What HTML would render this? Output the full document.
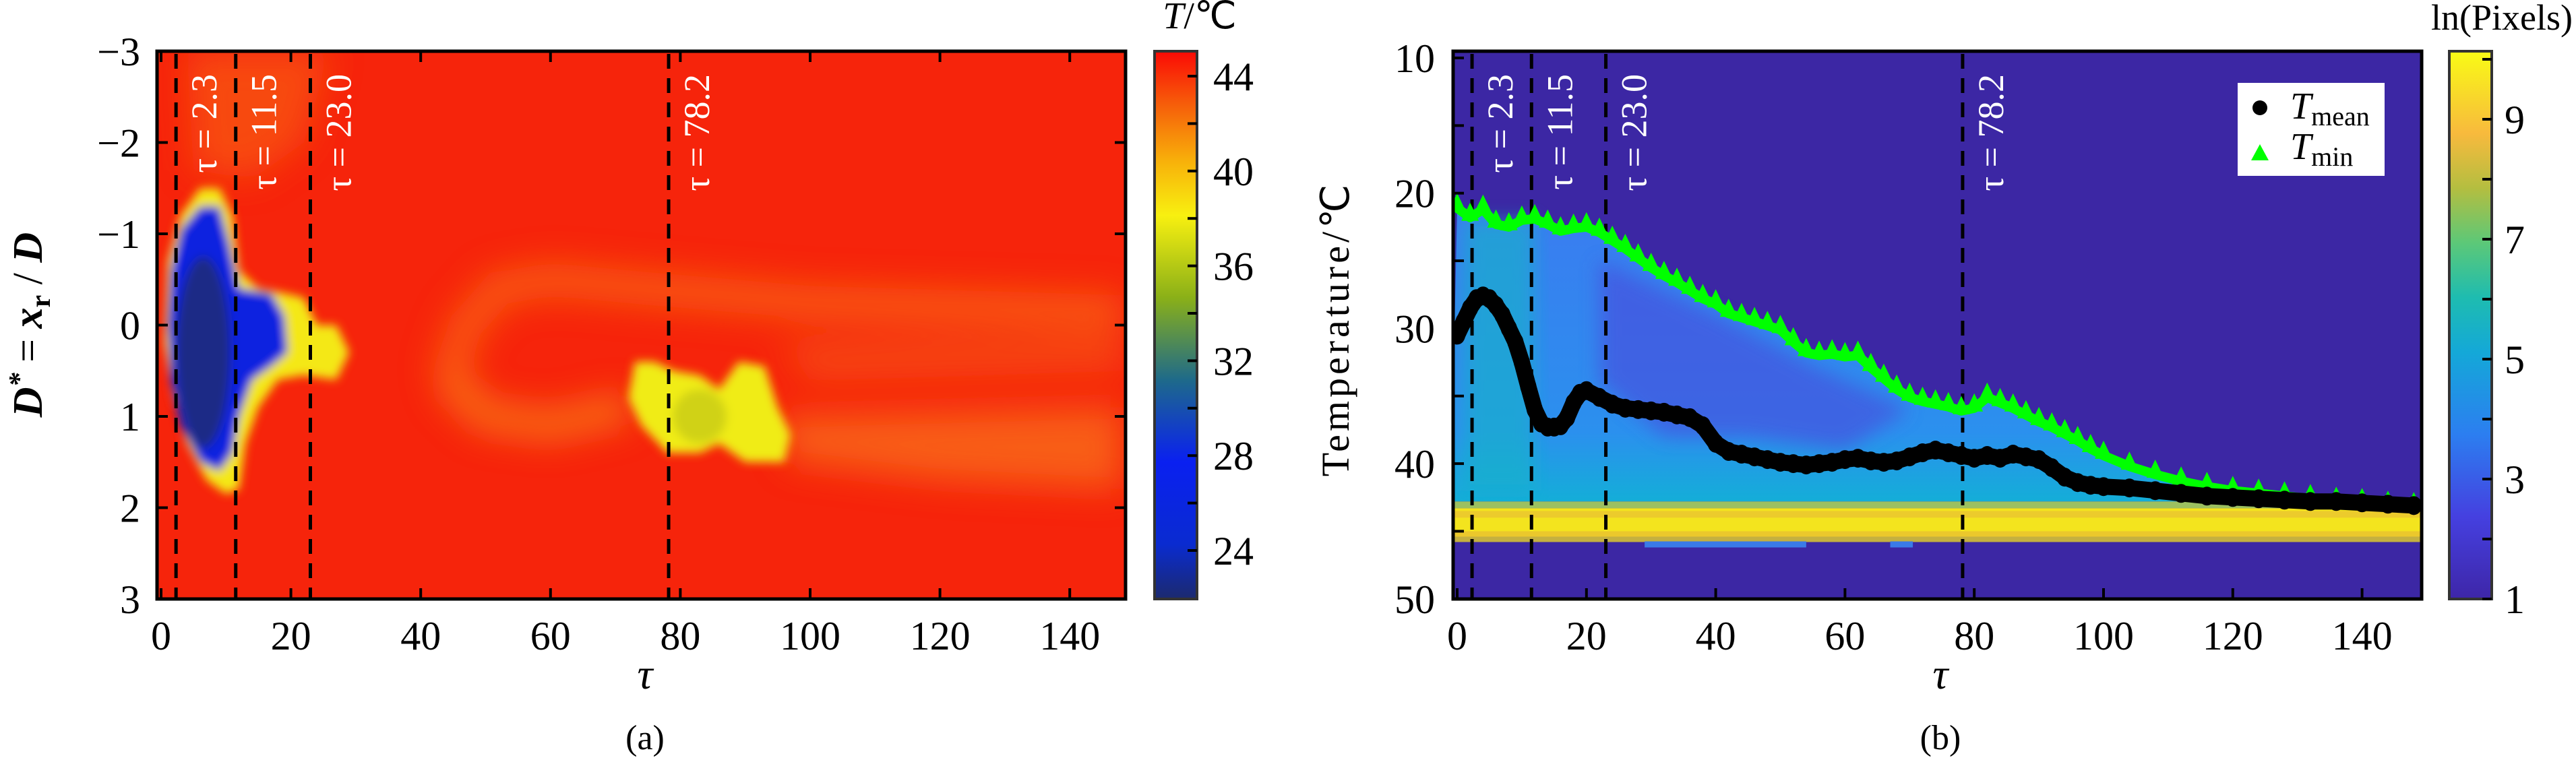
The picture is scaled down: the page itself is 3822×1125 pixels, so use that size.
<!DOCTYPE html>
<html><head><meta charset="utf-8"><style>
html,body{margin:0;padding:0;background:#fff;}
svg{display:block;font-family:"Liberation Serif",serif;}
</style></head><body>
<svg id="fig" width="3822" height="1125" viewBox="0 0 3822 1125" xmlns="http://www.w3.org/2000/svg">
<defs>
<filter id="blur8" x="-20%" y="-20%" width="140%" height="140%"><feGaussianBlur stdDeviation="7"/></filter>
<filter id="blur14" x="-20%" y="-20%" width="140%" height="140%"><feGaussianBlur stdDeviation="14"/></filter>
<filter id="blur25" x="-30%" y="-30%" width="160%" height="160%"><feGaussianBlur stdDeviation="25"/></filter>
<linearGradient id="cbA" x1="0" y1="1" x2="0" y2="0">
<stop offset="0" stop-color="#1c2a6e"/><stop offset="0.1" stop-color="#0a2bd0"/><stop offset="0.25" stop-color="#0a20f0"/>
<stop offset="0.4" stop-color="#1e6a8a"/><stop offset="0.55" stop-color="#8ab018"/><stop offset="0.7" stop-color="#f8f010"/>
<stop offset="0.8" stop-color="#f8b00a"/><stop offset="0.9" stop-color="#f6600a"/><stop offset="1" stop-color="#fb0a05"/>
</linearGradient>
<linearGradient id="cbB" x1="0" y1="1" x2="0" y2="0">
<stop offset="0" stop-color="#3e26a8"/><stop offset="0.15" stop-color="#4540e0"/><stop offset="0.3" stop-color="#2c7ef0"/>
<stop offset="0.45" stop-color="#14a8d8"/><stop offset="0.55" stop-color="#1ebcb0"/><stop offset="0.65" stop-color="#5cc878"/>
<stop offset="0.75" stop-color="#b4be40"/><stop offset="0.85" stop-color="#f8ba3d"/><stop offset="1" stop-color="#f9fb15"/>
</linearGradient>
<linearGradient id="fillB" x1="0" y1="1" x2="0" y2="0">
<stop offset="0" stop-color="#12b0d6"/><stop offset="0.25" stop-color="#2b90ee"/><stop offset="1" stop-color="#3a7cf0"/>
</linearGradient>
<clipPath id="clipA"><rect x="233" y="76" width="1437" height="813"/></clipPath>
<clipPath id="clipB"><rect x="2156" y="76" width="1437" height="813"/></clipPath>
</defs>
<g id="layerA"></g>
<g id="layerB"></g>
</svg>
<script>
// ---------- data ----------
const markerTaus = [2.3, 11.5, 23.0, 78.2];
const markerLabels = ["τ = 2.3", "τ = 11.5", "τ = 23.0", "τ = 78.2"];
const xTicks = [0, 20, 40, 60, 80, 100, 120, 140];
const yTicksA = [-3, -2, -1, 0, 1, 2, 3];
const cbTicksA = [24, 28, 32, 36, 40, 44];
const yTicksB = [10, 20, 30, 40, 50];
const cbTicksB = [1, 3, 5, 7, 9];
const meanTau = [0,1,2,3,4,5,6,7,8,9,10,11,12,13,14,15,16,17,18,19,20,22,24,26,28,30,32,34,36,38,40,42,44,46,48,50,52,54,56,58,60,62,64,66,68,70,72,74,76,78,80,82,84,86,88,90,92,94,96,98,100,104,108,112,116,120,124,128,132,136,140,144,148];
const meanT = [30.5,29.5,28.5,27.8,27.6,27.8,28.3,29,30,31,32.5,34.3,36,37,37.3,37.3,37.2,36.6,35.5,34.8,34.6,35.1,35.6,35.9,36,36.1,36.2,36.4,36.6,37.2,38.5,39.1,39.3,39.5,39.7,39.9,40,40.1,40,39.9,39.7,39.6,39.8,39.9,39.8,39.5,39.2,39,39.2,39.4,39.6,39.4,39.6,39.3,39.5,39.7,40.3,41,41.4,41.6,41.7,41.8,42,42.2,42.4,42.5,42.6,42.7,42.8,42.8,42.9,43,43.1];
const minTau = [0,2,4,6,8,10,12,14,16,18,20,22,24,26,28,30,32,34,36,38,40,42,44,46,48,50,52,54,56,58,60,62,64,66,68,70,72,74,76,78,80,82,84,86,88,90,92,94,96,98,100,104,108,112,116,120,124,128,132,136,140,144,148];
const minT = [20.8,21.5,20.9,22,22.2,21.7,21.6,22,22.5,22.3,22.2,22.6,23.2,23.8,24.5,25.2,25.8,26.3,26.9,27.5,27.9,28.6,28.9,29.2,29.5,29.8,30.7,31.5,31.7,31.6,31.8,31.7,32.6,33.4,34.2,34.8,35.1,35.3,35.5,35.8,35.6,34.8,35.2,35.6,36.1,36.6,37,37.5,38,38.6,39.1,39.9,40.5,41,41.4,41.7,41.9,42.1,42.3,42.5,42.6,42.8,42.9];
// ---------- scales ----------
const SVGNS = "http://www.w3.org/2000/svg";
const xA = t => 239 + 9.63 * t;
const yA = d => 76 + 135.5 * (d + 3);
const cbA = v => 113 + (44 - v) * 35.2;
const xB = t => 2162 + 9.59 * t;
const yB = T => 86 + 20.07 * (T - 10);
const cbB = v => 889 - (v - 1) * 89;
function mk(tag, attrs, parent) {
  const e = document.createElementNS(SVGNS, tag);
  for (const k in attrs) e.setAttribute(k, attrs[k]);
  parent.appendChild(e);
  return e;
}
function txt(s, attrs, parent) { const e = mk("text", attrs, parent); e.textContent = s; return e; }
const LA = document.getElementById("layerA");
const LB = document.getElementById("layerB");
// ---------- panel A heatmap ----------
const hmA = mk("g", {"clip-path": "url(#clipA)"}, LA);


mk("rect", {x: 233, y: 76, width: 1437, height: 813, fill: "#f6240b"}, hmA);
const pts = arr => arr.map(p => xA(p[0]) + "," + yA(p[1])).join(" ");
const soft = mk("g", {filter: "url(#blur25)"}, hmA);
mk("polygon", {points: pts([[4,-3],[26,-3],[22,-2],[14,-1.6],[5,-1.7]]), fill: "#f85a12", opacity: 0.7}, soft);
mk("polyline", {points: pts([[44,0.6],[47,0],[52,-0.4],[60,-0.5],[75,-0.4],[100,-0.25],[148,-0.15]]), fill: "none", stroke: "#fa7a16", "stroke-width": 50, opacity: 0.6}, soft);
mk("polyline", {points: pts([[44,0.6],[50,1.0],[60,1.1],[72,0.9]]), fill: "none", stroke: "#fa8a18", "stroke-width": 45, opacity: 0.7}, soft);
mk("polygon", {points: pts([[95,1.0],[148,0.9],[148,1.8],[120,1.7],[97,1.5]]), fill: "#f8701a", opacity: 0.75}, soft);
mk("polygon", {points: pts([[95,0.2],[148,0.1],[148,0.5],[100,0.6]]), fill: "#f86a14", opacity: 0.5}, soft);
const mid = mk("g", {filter: "url(#blur8)"}, hmA);
mk("polygon", {points: pts([[1,-0.7],[3,-1.2],[6,-1.5],[9,-1.5],[11,-1.2],[12,-0.6],[15,-0.4],[19,-0.35],[22,-0.3],[24,0],[27,0],[29,0.3],[27,0.6],[22,0.55],[18,0.6],[15,0.9],[13,1.3],[12,1.8],[10,1.85],[7,1.7],[4,1.3],[2,0.8],[0.5,0.2]]), fill: "#f4e812"}, mid);
mk("polygon", {points: pts([[1.5,-0.6],[3,-1.05],[6,-1.3],[9,-1.3],[10.5,-0.9],[12,-0.4],[17,-0.35],[19,-0.1],[19.5,0.3],[17,0.45],[14,0.6],[12,1.0],[11,1.4],[9,1.6],[6,1.5],[3,1.1],[1.5,0.6],[1,0]]), fill: "#0a24e0"}, mid);
mk("ellipse", {cx: xA(6.5), cy: yA(0.3), rx: 9.63 * 4.2, ry: 135.5 * 1.05, fill: "#1a2c86"}, mid);
mk("polygon", {points: pts([[73,0.4],[76,0.4],[79,0.5],[83,0.55],[86,0.7],[89,0.4],[93,0.45],[95,0.9],[97,1.2],[96,1.5],[90,1.5],[86,1.3],[83,1.4],[78,1.4],[74,1.1],[72,0.8]]), fill: "#f0ec14"}, mid);
mk("ellipse", {cx: xA(83), cy: yA(1.0), rx: 40, ry: 40, fill: "#c8cc14", opacity: 0.8}, mid);
// ---------- panel A axes ----------
const axA = mk("g", {}, LA);


markerTaus.forEach((t, i) => {
  const l = mk("line", {x1: xA(t), x2: xA(t), y1: 80, y2: 889, stroke: "#000", "stroke-width": 5, "stroke-dasharray": "22 14"}, axA);
  
  
  const tx = txt(markerLabels[i], {x: 0, y: 0, transform: `translate(${xA(t) + 60},110) rotate(-90)`, "text-anchor": "end", fill: "#fff", "font-size": 54}, axA);
  
  
});
mk("rect", {x: 233, y: 76, width: 1437, height: 813, fill: "none", stroke: "#000", "stroke-width": 5}, axA);
xTicks.forEach(t => {
  mk("line", {x1: xA(t), x2: xA(t), y1: 889, y2: 873, stroke: "#000", "stroke-width": 4}, axA);
  mk("line", {x1: xA(t), x2: xA(t), y1: 76, y2: 92, stroke: "#000", "stroke-width": 4}, axA);
  const e = txt(String(t), {x: xA(t), y: 964, "text-anchor": "middle", "font-size": 60}, axA);
  
  
});
yTicksA.forEach(d => {
  mk("line", {x1: 233, x2: 249, y1: yA(d), y2: yA(d), stroke: "#000", "stroke-width": 4}, axA);
  mk("line", {x1: 1670, x2: 1654, y1: yA(d), y2: yA(d), stroke: "#000", "stroke-width": 4}, axA);
  const e = txt(d < 0 ? "−" + (-d) : String(d), {x: 208, y: yA(d) + 21, "text-anchor": "end", "font-size": 60}, axA);
  
  
});
const xlA = txt("τ", {x: 957, y: 1022, "text-anchor": "middle", "font-size": 64, "font-style": "italic"}, axA);


const ylA = mk("text", {transform: "translate(62,482) rotate(-90)", "text-anchor": "middle", "font-size": 62, "font-style": "italic", "font-weight": "bold"}, axA);
ylA.innerHTML = 'D<tspan dy="-20" font-size="42">*</tspan><tspan dy="20" font-style="normal" font-weight="normal"> = </tspan>x<tspan dy="12" font-size="42" font-style="normal">r</tspan><tspan dy="-12" font-style="normal" font-weight="normal"> / </tspan>D';


const capA = txt("(a)", {x: 957, y: 1112, "text-anchor": "middle", "font-size": 52}, axA);


// colorbar A
const cbgA = mk("g", {}, LA);


mk("rect", {x: 1713, y: 76, width: 63, height: 813, fill: "url(#cbA)", stroke: "#333", "stroke-width": 4}, cbgA);
for (let v = 24; v <= 44; v += 2) mk("line", {x1: 1776, x2: 1762, y1: cbA(v), y2: cbA(v), stroke: "#000", "stroke-width": 4}, cbgA);
cbTicksA.forEach(v => {
  const e = txt(String(v), {x: 1800, y: cbA(v) + 21, "font-size": 60}, cbgA);
  
  
});
const cbtA = mk("text", {x: 1780, y: 42, "text-anchor": "middle", "font-size": 56}, cbgA);
cbtA.innerHTML = '<tspan font-style="italic">T</tspan>/℃';


// ---------- panel B heatmap ----------
const hmB = mk("g", {"clip-path": "url(#clipB)"}, LB);


mk("rect", {x: 2156, y: 76, width: 1437, height: 813, fill: "#3c27a4"}, hmB);
let poly = minTau.map((t, i) => xB(t) + "," + (yB(minT[i]) + 6)).join(" ");
poly += " " + xB(150) + "," + yB(42.8) + " " + xB(-1) + "," + yB(42.8);
mk("polygon", {points: poly, fill: "url(#fillB)"}, hmB);
const patches = mk("g", {opacity: 0.6}, hmB);
mk("polygon", {points: [[22,25],[40,29],[56,33],[70,36],[60,39],[45,38],[32,38],[22,34]].map(p => xB(p[0]) + "," + yB(p[1])).join(" "), fill: "#4a48dc", filter: "url(#blur14)"}, patches);
mk("rect", {x: xB(1), y: yB(22), width: 9.59 * 11, height: 20.07 * 20, fill: "#18b4c8", opacity: 0.6, filter: "url(#blur14)"}, hmB);
mk("rect", {x: 2156, y: yB(42.8), width: 1437, height: yB(43.3) - yB(42.8), fill: "#9cc060"}, hmB);
mk("rect", {x: 2156, y: yB(43.3), width: 1437, height: yB(45.4) - yB(43.3), fill: "#f3e41e"}, hmB);
mk("rect", {x: 2156, y: yB(43.5), width: 1437, height: 10, fill: "#eac430", opacity: 0.8}, hmB);
mk("rect", {x: 2156, y: yB(45.0), width: 1437, height: 10, fill: "#e8c030", opacity: 0.8}, hmB);
mk("rect", {x: 2156, y: yB(45.4), width: 1437, height: 8, fill: "#c4b040"}, hmB);
mk("rect", {x: xB(29), y: yB(45.75), width: 9.59 * 25, height: 9, fill: "#3a7ae8"}, hmB);
mk("rect", {x: xB(67), y: yB(45.75), width: 9.59 * 3.5, height: 9, fill: "#3a7ae8"}, hmB);
// series
const dl = mk("g", {}, hmB);
markerTaus.forEach(t => {
  const l = mk("line", {x1: xB(t), x2: xB(t), y1: 80, y2: 889, stroke: "#000", "stroke-width": 5, "stroke-dasharray": "22 14"}, dl);
  
  
});
const minG = mk("g", {}, hmB);


mk("polyline", {points: minTau.map((t, i) => xB(t) + "," + (yB(minT[i]) + 6)).join(" "), fill: "none", stroke: "#00ff00", "stroke-width": 14, "stroke-linejoin": "round"}, minG);
minTau.forEach((t, i) => {
  const cx = xB(t), cy = yB(minT[i]);
  const p = mk("polygon", {points: `${cx},${cy - 16} ${cx + 13},${cy + 11} ${cx - 13},${cy + 11}`, fill: "#00ff00"}, minG);
  
  
});
const meanG = mk("g", {}, hmB);


mk("polyline", {points: meanTau.map((t, i) => xB(t) + "," + yB(meanT[i])).join(" "), fill: "none", stroke: "#000", "stroke-width": 24, "stroke-linejoin": "round", "stroke-linecap": "round"}, meanG);
meanTau.forEach((t, i) => {
  const c = mk("ellipse", {cx: xB(t), cy: yB(meanT[i]), rx: 12, ry: 14, fill: "#000"}, meanG);
  
  
});
// ---------- panel B axes ----------
const axB = mk("g", {}, LB);


markerTaus.forEach((t, i) => {
  const tx = txt(markerLabels[i], {x: 0, y: 0, transform: `translate(${xB(t) + 60},110) rotate(-90)`, "text-anchor": "end", fill: "#fff", "font-size": 54}, axB);
  
  
});
mk("rect", {x: 2156, y: 76, width: 1437, height: 813, fill: "none", stroke: "#000", "stroke-width": 5}, axB);
xTicks.forEach(t => {
  mk("line", {x1: xB(t), x2: xB(t), y1: 889, y2: 873, stroke: "#000", "stroke-width": 4}, axB);
  const e = txt(String(t), {x: xB(t), y: 964, "text-anchor": "middle", "font-size": 60}, axB);
  
  
});
for (let T = 10; T <= 50; T += 5) mk("line", {x1: 2156, x2: 2172, y1: yB(T), y2: yB(T), stroke: "#000", "stroke-width": 4}, axB);
yTicksB.forEach(T => {
  const e = txt(String(T), {x: 2129, y: yB(T) + 21, "text-anchor": "end", "font-size": 60}, axB);
  
  
});
const xlB = txt("τ", {x: 2879, y: 1022, "text-anchor": "middle", "font-size": 64, "font-style": "italic"}, axB);


const ylB = txt("Temperature/℃", {transform: "translate(2001,488) rotate(-90)", "text-anchor": "middle", "font-size": 58, "letter-spacing": 5}, axB);


const capB = txt("(b)", {x: 2879, y: 1112, "text-anchor": "middle", "font-size": 52}, axB);


// legend
const lg = mk("g", {}, axB);


mk("rect", {x: 3320, y: 123, width: 218, height: 138, fill: "#fff"}, lg);
const le1 = mk("g", {}, lg);


mk("circle", {cx: 3353, cy: 160, r: 11, fill: "#000"}, le1);
const lt1 = mk("text", {x: 3398, y: 176, "font-size": 56}, le1);
lt1.innerHTML = '<tspan font-style="italic">T</tspan><tspan font-size="40" dy="10">mean</tspan>';
const le2 = mk("g", {}, lg);


mk("polygon", {points: "3353,214 3366,238 3340,238", fill: "#00ff00"}, le2);
const lt2 = mk("text", {x: 3398, y: 236, "font-size": 56}, le2);
lt2.innerHTML = '<tspan font-style="italic">T</tspan><tspan font-size="40" dy="10">min</tspan>';
// colorbar B
const cbgB = mk("g", {}, LB);


mk("rect", {x: 3634, y: 76, width: 63, height: 813, fill: "url(#cbB)", stroke: "#333", "stroke-width": 4}, cbgB);
for (let v = 1; v <= 10; v++) mk("line", {x1: 3697, x2: 3683, y1: cbB(v), y2: cbB(v), stroke: "#000", "stroke-width": 4}, cbgB);
cbTicksB.forEach(v => {
  const e = txt(String(v), {x: 3716, y: cbB(v) + 21, "font-size": 60}, cbgB);
  
  
});
const cbtB = txt("ln(Pixels)", {x: 3712, y: 44, "text-anchor": "middle", "font-size": 54}, cbgB);


</script>
</body></html>
